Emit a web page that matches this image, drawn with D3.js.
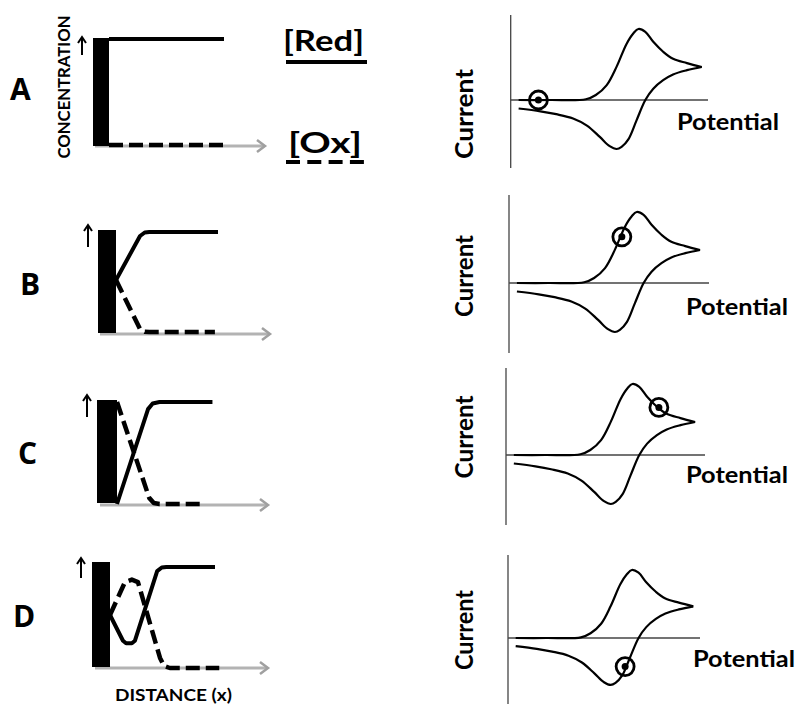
<!DOCTYPE html>
<html><head><meta charset="utf-8">
<script src="https://cdn.jsdelivr.net/npm/d3@7"></script>
<style>body{margin:0;background:#fff}svg{display:block}</style>
</head><body>
<svg id="c" width="799" height="704"></svg>
<script>
// ---------- data ----------
const panelLabels = ["A", "B", "C", "D"];
const legendLabels = ["[Red]", "[Ox]"];
const xAxisTitle = "DISTANCE (x)";
const yAxisTitle = "CONCENTRATION";
const cvXTitle = "Potential";
const cvYTitle = "Current";

// cyclic voltammogram (arbitrary units): forward and reverse scans
const cvForwardE = [4, 20, 38, 43, 48.5, 53.5, 58.5, 62, 64.5, 68, 72, 77, 82, 89, 96.5];
const cvForwardI = [0, 0, 0.01, 0.07, 0.21, 0.47, 0.79, 0.94, 1.0, 0.96, 0.82, 0.68, 0.58, 0.52, 0.465];
const cvReverseE = [96.5, 89, 82, 77, 72, 68, 63.5, 59.5, 56, 53.5, 50, 45, 38.5, 31.5, 23, 15, 4];
const cvReverseI = [0.465, 0.42, 0.36, 0.28, 0.16, 0, -0.29, -0.55, -0.66, -0.69, -0.65, -0.52, -0.36, -0.26, -0.2, -0.16, -0.12];
// marked point on the CV for each panel
const markerE = [14, 57, 78, 61];
const markerI = [0, 0.65, 0.67, -0.42];

// concentration profiles (distance from electrode, relative concentration)
const redDist = [
  [0, 1],
  [0, 0.209, 0.25, 0.29, 0.887],
  [0, 0.27, 0.31, 0.37, 0.83],
  [0, 0.113, 0.14, 0.19, 0.217, 0.41, 0.45, 0.49, 0.913]
];
const redConc = [
  [1, 1],
  [0.52, 0.96, 0.995, 1, 1],
  [0, 0.93, 0.985, 1, 1],
  [0.525, 0.27, 0.245, 0.245, 0.27, 0.96, 0.995, 1, 1]
];
const oxDist = [
  [0, 1],
  [0, 0.209, 0.25, 0.29, 0.86],
  [0, 0.28, 0.32, 0.37, 0.765],
  [0, 0.13, 0.19, 0.243, 0.435, 0.47, 0.52, 0.95]
];
const oxConc = [
  [0, 0],
  [0.52, 0.03, 0.003, 0, 0],
  [1, 0.06, 0.01, 0, 0],
  [0.525, 0.85, 0.875, 0.85, 0.1, 0.02, 0, 0]
];

// ---------- layout ----------
const leftLayout = [
  {e0: 93, e1: 109, eTop: 38, eBot: 146, cTop: 39, cBot: 145, axY: 146, axX0: 95, axX1: 265, arX: 82, arY0: 37, arY1: 55, lx: 10, ly: 100},
  {e0: 98, e1: 116, eTop: 230, eBot: 333, cTop: 232, cBot: 332, axY: 334, axX0: 100, axX1: 270, arX: 88, arY0: 225, arY1: 247, lx: 20, ly: 295},
  {e0: 97, e1: 117, eTop: 400, eBot: 503, cTop: 402, cBot: 504, axY: 505, axX0: 100, axX1: 268, arX: 87, arY0: 395, arY1: 417, lx: 18, ly: 464},
  {e0: 92, e1: 110, eTop: 562, eBot: 667, cTop: 567, cBot: 668, axY: 668, axX0: 95, axX1: 268, arX: 81, arY0: 558, arY1: 578, lx: 13, ly: 627}
];
const rightLayout = [
  {ax: 510.7, base: 100, hEnd: 708, vTop: 15, vBot: 168, xpu: 1.98, ypu: 71, cx: 473, cy: 114, cl: 90, px: 677, py: 130},
  {ax: 509, base: 283, hEnd: 709, vTop: 195, vBot: 353, xpu: 1.98, ypu: 71, cx: 473, cy: 276, cl: 82, px: 686, py: 315},
  {ax: 506, base: 455, hEnd: 705, vTop: 368, vBot: 525, xpu: 1.96, ypu: 71, cx: 473, cy: 437, cl: 83, px: 686, py: 483},
  {ax: 508, base: 638, hEnd: 700, vTop: 555, vBot: 704, xpu: 1.92, ypu: 68, cx: 473, cy: 630, cl: 80, px: 693, py: 667}
];

const svg = d3.select("#c");
const FONT = "Lato, 'Open Sans', sans-serif";

panelLabels.forEach((lab, i) => {
  const L = leftLayout[i];
  const g = svg.append("g");
  const x = d3.scaleLinear().domain([0, 1]).range([L.e1, L.e1 + 115]);
  const y = d3.scaleLinear().domain([0, 1]).range([L.cBot, L.cTop]);

  // grey distance axis with arrow
  g.append("line").attr("x1", L.axX0).attr("x2", L.axX1 - 1).attr("y1", L.axY).attr("y2", L.axY)
    .attr("stroke", "#b3b3b3").attr("stroke-width", 3);
  g.append("path").attr("d", `M${L.axX1 - 8},${L.axY - 6}L${L.axX1},${L.axY}L${L.axX1 - 8},${L.axY + 6}`)
    .attr("fill", "none").attr("stroke", "#a0a0a0").attr("stroke-width", 2.5);

  // electrode
  g.append("rect").attr("x", L.e0).attr("y", L.eTop).attr("width", L.e1 - L.e0).attr("height", L.eBot - L.eTop)
    .attr("fill", "#000");

  // up arrow
  g.append("line").attr("x1", L.arX).attr("x2", L.arX).attr("y1", L.arY1).attr("y2", L.arY0 + 1)
    .attr("stroke", "#000").attr("stroke-width", 2);
  g.append("path").attr("d", `M${L.arX - 4},${L.arY0 + 6}L${L.arX},${L.arY0}L${L.arX + 4},${L.arY0 + 6}`)
    .attr("fill", "none").attr("stroke", "#000").attr("stroke-width", 2);

  const line = d3.line().x(d => x(d[0])).y(d => y(d[1])).curve(d3.curveLinear);
  const red = redDist[i].map((d, k) => [d, redConc[i][k]]);
  const ox = oxDist[i].map((d, k) => [d, oxConc[i][k]]);
  g.append("path").attr("d", line(ox)).attr("fill", "none").attr("stroke", "#000")
    .attr("stroke-width", 4.5).attr("stroke-dasharray", "14,6").attr("stroke-linejoin", "round");
  g.append("path").attr("d", line(red)).attr("fill", "none").attr("stroke", "#000")
    .attr("stroke-width", 4).attr("stroke-linejoin", "round");

  // panel letter
  g.append("text").attr("x", L.lx).attr("y", L.ly).text(lab)
    .attr("font-family", "'Open Sans', sans-serif").attr("font-weight", 700).attr("font-size", 30);

  // ---- CV ----
  const R = rightLayout[i];
  const gx = d3.scaleLinear().domain([0, 100]).range([R.ax, R.ax + 100 * R.xpu]);
  const gy = d3.scaleLinear().domain([0, 1]).range([R.base, R.base - R.ypu]);
  const h = svg.append("g");
  h.append("line").attr("x1", R.ax).attr("x2", R.ax).attr("y1", R.vTop).attr("y2", R.vBot)
    .attr("stroke", "#444").attr("stroke-width", 1.3);
  h.append("line").attr("x1", R.ax).attr("x2", R.hEnd).attr("y1", R.base).attr("y2", R.base)
    .attr("stroke", "#444").attr("stroke-width", 1.3);
  const cvLine = d3.line().x(d => gx(d[0])).y(d => gy(d[1])).curve(d3.curveCatmullRom.alpha(0.5));
  const fwd = cvForwardE.map((e, k) => [e, cvForwardI[k]]);
  const rev = cvReverseE.map((e, k) => [e, cvReverseI[k]]);
  h.append("path").attr("d", cvLine(fwd)).attr("fill", "none").attr("stroke", "#000").attr("stroke-width", 2.2);
  h.append("path").attr("d", cvLine(rev)).attr("fill", "none").attr("stroke", "#000").attr("stroke-width", 2.2);
  // marker
  h.append("circle").attr("cx", gx(markerE[i])).attr("cy", gy(markerI[i])).attr("r", 9)
    .attr("fill", "none").attr("stroke", "#000").attr("stroke-width", 2.8);
  h.append("circle").attr("cx", gx(markerE[i])).attr("cy", gy(markerI[i])).attr("r", 3.5).attr("fill", "#000");
  // labels
  h.append("text").attr("transform", `translate(${R.cx},${R.cy}) rotate(-90)`).attr("text-anchor", "middle")
    .attr("font-family", FONT).attr("font-weight", 700).attr("font-size", 24)
    .attr("textLength", R.cl).attr("lengthAdjust", "spacingAndGlyphs").text(cvYTitle);
  h.append("text").attr("x", R.px).attr("y", R.py)
    .attr("font-family", FONT).attr("font-weight", 700).attr("font-size", 22)
    .attr("textLength", 102).attr("lengthAdjust", "spacingAndGlyphs").text(cvXTitle);
});

// concentration axis title (panel A)
svg.append("text").attr("transform", "translate(70,87) rotate(-90)").attr("text-anchor", "middle")
  .attr("font-family", FONT).attr("font-weight", 700).attr("font-size", 17)
  .attr("textLength", 143).attr("lengthAdjust", "spacingAndGlyphs").text(yAxisTitle);
// distance axis title (panel D)
svg.append("text").attr("x", 115).attr("y", 701)
  .attr("font-family", FONT).attr("font-weight", 700).attr("font-size", 17)
  .attr("textLength", 117).attr("lengthAdjust", "spacingAndGlyphs").text(xAxisTitle);

// legend
svg.append("text").attr("x", 283).attr("y", 51)
  .attr("font-family", FONT).attr("font-weight", 700).attr("font-size", 28)
  .attr("textLength", 81).attr("lengthAdjust", "spacingAndGlyphs").text(legendLabels[0]);
svg.append("line").attr("x1", 286).attr("x2", 367).attr("y1", 62).attr("y2", 62)
  .attr("stroke", "#000").attr("stroke-width", 4);
svg.append("text").attr("x", 288).attr("y", 153)
  .attr("font-family", FONT).attr("font-weight", 700).attr("font-size", 28)
  .attr("textLength", 74).attr("lengthAdjust", "spacingAndGlyphs").text(legendLabels[1]);
svg.append("line").attr("x1", 286).attr("x2", 364).attr("y1", 162).attr("y2", 162)
  .attr("stroke", "#000").attr("stroke-width", 4).attr("stroke-dasharray", "14,7.3");
</script>
</body></html>
